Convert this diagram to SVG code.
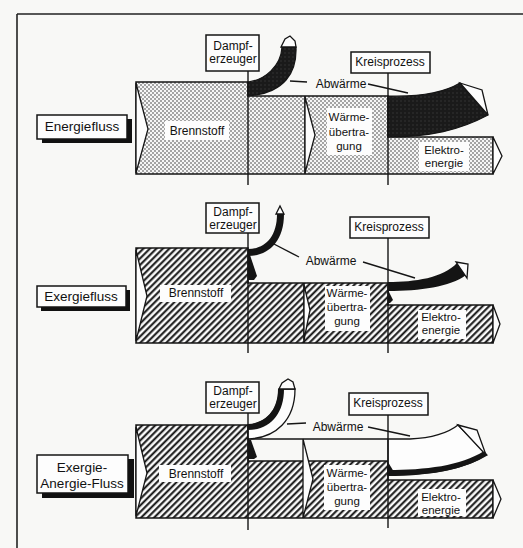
<svg xmlns="http://www.w3.org/2000/svg" width="523" height="548" viewBox="0 0 523 548">
<defs>
<pattern id="dots" patternUnits="userSpaceOnUse" width="4" height="4">
<rect width="4" height="4" fill="#f6f6f6"/>
<circle cx="1" cy="1" r="0.75" fill="#2a2a2a"/>
<circle cx="3" cy="3" r="0.75" fill="#2a2a2a"/>
</pattern>
<pattern id="darkdots" patternUnits="userSpaceOnUse" width="4" height="4">
<rect width="4" height="4" fill="#1a1a1a"/>
<circle cx="1" cy="1" r="0.7" fill="#3a3a3a"/>
</pattern>
<pattern id="hatch" patternUnits="userSpaceOnUse" width="4.6" height="4.6" patternTransform="rotate(45)">
<rect width="4.6" height="4.6" fill="#fbfbfb"/>
<line x1="1.2" y1="0" x2="1.2" y2="4.6" stroke="#111" stroke-width="2"/>
</pattern>
<style>
.ln{stroke:#151515;stroke-width:1.4;fill:none}
.blk{stroke:#151515;stroke-width:1.5}
.wht{fill:#fdfdfd;stroke:#151515;stroke-width:1.3}
.box{fill:#fdfdfd;stroke:#151515;stroke-width:1.5}
.shd{fill:#111}
.tb{fill:#fdfdfd;stroke:none}
.solid{fill:#141414;stroke:none}
text{font-family:"Liberation Sans",Arial,Helvetica,sans-serif;fill:#111;text-anchor:middle}
.s12{font-size:12px}
.s11{font-size:11.5px}
.lbl{font-size:13.5px}
</style>
</defs>
<rect x="0" y="0" width="523" height="548" fill="#f8f8f6"/>
<g id="frame">
<line x1="17" y1="14" x2="17" y2="548" stroke="#222" stroke-width="1.6"/>
<line x1="17" y1="14" x2="523" y2="14" stroke="#222" stroke-width="1.6"/>
</g>

<!-- ============ PANEL 1: Energiefluss ============ -->
<g id="energie-label">
<rect class="shd" x="42" y="119" width="90" height="24"/>
<rect class="box" x="37" y="115" width="90" height="24"/>
<text class="lbl" x="82" y="131">Energiefluss</text>
</g>
<g id="energie-stream">
<polygon class="blk" fill="url(#dots)" points="136,82 248,82 248,96 388,96 388,137 493,137 493,174 136,174"/>
<line class="ln" x1="305" y1="96" x2="305" y2="174"/>
<polygon class="wht" points="136,83 148,129 136,173"/>
<polygon class="wht" points="305,97 315,135 305,173"/>
<polygon class="wht" points="493,137 502,156 493,174"/>
<rect class="tb" x="165" y="121" width="64" height="19"/>
<text class="s12" x="197" y="135">Brennstoff</text>
<rect class="tb" x="327" y="108" width="45" height="47"/>
<text class="s11" x="349" y="121">Wärme-</text>
<text class="s11" x="349" y="136">übertra-</text>
<text class="s11" x="349" y="150">gung</text>
<rect class="tb" x="419" y="142" width="50" height="29"/>
<text class="s11" x="444" y="154">Elektro-</text>
<text class="s11" x="444" y="167">energie</text>
</g>
<g id="energie-abwaerme-dampf">
<path fill="url(#darkdots)" stroke="#151515" stroke-width="1.2" d="M248,82 C265,80 281,66 282,47 L296,47 C297,72 285,93 248,96 Z"/>
<polygon class="wht" points="281,47 285,39 290,36 295,41 296,47"/>
</g>
<g id="energie-abwaerme-kreis">
<path fill="url(#darkdots)" stroke="#151515" stroke-width="1.2" d="M388,96 C420,97 445,92 460,83 L488,115 C460,130 430,137 388,137 Z"/>
<polygon class="wht" points="460,83 482,90 488,115"/>
</g>
<g id="energie-dampferzeuger">
<line class="ln" x1="248" y1="71" x2="248" y2="185"/>
<rect class="box" x="206" y="35" width="53" height="36"/>
<text class="s12" x="233" y="50">Dampf-</text>
<text class="s12" x="233" y="63">erzeuger</text>
</g>
<g id="energie-kreisprozess">
<line class="ln" x1="388" y1="73" x2="388" y2="185"/>
<rect class="box" x="351" y="52" width="79" height="21"/>
<text class="s12" x="390" y="66">Kreisprozess</text>
</g>

<!-- ============ PANEL 2: Exergiefluss ============ -->
<g id="exergie-label">
<rect class="shd" x="41" y="290" width="89" height="21"/>
<rect class="box" x="37" y="286" width="89" height="21"/>
<text class="lbl" x="81" y="301">Exergiefluss</text>
</g>
<g id="exergie-stream">
<polygon class="blk" fill="url(#hatch)" points="136,248 248,248 248,283 388,283 388,305 493,305 493,343 136,343"/>
<line class="ln" x1="304" y1="283" x2="304" y2="343"/>
<polygon class="wht" points="136,250 147,296 136,341"/>
<polygon class="wht" points="304,285 310,310 304,340"/>
<polygon class="wht" points="493,305 500,324 493,343"/>
<rect class="tb" x="160" y="285" width="71" height="17"/>
<text class="s12" x="196" y="297">Brennstoff</text>
<rect class="tb" x="325" y="286" width="45" height="45"/>
<text class="s11" x="347" y="297">Wärme-</text>
<text class="s11" x="347" y="311">übertra-</text>
<text class="s11" x="347" y="325">gung</text>
<rect class="tb" x="418" y="310" width="48" height="29"/>
<text class="s11" x="441" y="321">Elektro-</text>
<text class="s11" x="441" y="334">energie</text>
</g>
<g id="exergie-abwaerme-dampf">
<path class="solid" d="M248,249 C264,249 277,238 277,214 L284,214 C284,242 268,256 248,256 Z"/>
<polygon class="wht" points="276,214 284,214 280,206"/>
<polygon class="solid" points="248,255 250,255 257,276 254,280 248,280"/>
</g>
<g id="exergie-abwaerme-kreis">
<path class="solid" d="M388,282 C415,282 443,278 457,263 L466,275 C450,287 420,291 388,291 Z"/>
<polygon class="wht" points="456,262 468,264 467,278"/>
<polygon class="solid" points="388,290 393,300 390,303 388,303"/>
</g>
<g id="exergie-dampferzeuger">
<line class="ln" x1="248" y1="233" x2="248" y2="353"/>
<rect class="box" x="206" y="203" width="53" height="30"/>
<text class="s12" x="233" y="216">Dampf-</text>
<text class="s12" x="233" y="229">erzeuger</text>
</g>
<g id="exergie-kreisprozess">
<line class="ln" x1="388" y1="238" x2="388" y2="353"/>
<rect class="box" x="350" y="217" width="79" height="21"/>
<text class="s12" x="389" y="231">Kreisprozess</text>
</g>

<!-- ============ PANEL 3: Exergie-Anergie-Fluss ============ -->
<g id="exan-label">
<rect class="shd" x="42" y="459" width="92" height="39"/>
<rect class="box" x="37" y="455" width="91" height="38"/>
<text class="lbl" x="82" y="472">Exergie-</text>
<text class="lbl" x="82" y="488">Anergie-Fluss</text>
</g>
<g id="exan-stream">
<polygon class="blk" fill="url(#hatch)" points="136,425 248,425 248,461 388,461 388,480 493,480 493,518 136,518"/>
<polygon class="wht" points="136,427 147,473 136,516"/>
<polygon class="wht" points="303,439 313,479 303,518"/>
<polygon class="wht" points="493,480 501,499 493,518"/>
<rect class="tb" x="159" y="465" width="72" height="17"/>
<text class="s12" x="196" y="478">Brennstoff</text>
<rect class="tb" x="324" y="465" width="46" height="45"/>
<text class="s11" x="347" y="477">Wärme-</text>
<text class="s11" x="347" y="491">übertra-</text>
<text class="s11" x="347" y="505">gung</text>
<rect class="tb" x="418" y="489" width="48" height="27"/>
<text class="s11" x="441" y="501">Elektro-</text>
<text class="s11" x="441" y="514">energie</text>
</g>
<g id="exan-abwaerme-kreis">
<path class="wht" d="M388,439 L410,439 C430,438 448,433 458,425 L487,455 C463,470 425,475 388,475 Z"/>
<path class="solid" d="M388,470 C425,470 461,466 484,451 L487,455 C463,471 425,476 388,476 Z"/>
<polygon class="wht" points="458,425 477,430 486,455"/>
<polygon class="solid" points="388,462 394,472 388,474"/>
</g>
<g id="exan-anergie">
<line class="ln" x1="248" y1="439" x2="303" y2="439"/>
<line class="ln" x1="303" y1="439" x2="388" y2="439"/>
</g>
<g id="exan-abwaerme-dampf">
<path class="wht" d="M248,425 C265,424 279,412 279,389 L295,389 C295,420 276,438 248,439 Z"/>
<path class="solid" d="M248,424 C265,423 278,411 278,389 L284,389 C284,414 270,430 248,430 Z"/>
<polygon class="wht" points="279,389 282,383 288,379 293,382 295,389"/>
<polygon class="solid" points="248,440 251,440 257,457 254,459 248,459"/>
</g>
<g id="exan-dampferzeuger">
<line class="ln" x1="248" y1="413" x2="248" y2="530"/>
<rect class="box" x="206" y="382" width="53" height="31"/>
<text class="s12" x="233" y="395">Dampf-</text>
<text class="s12" x="233" y="408">erzeuger</text>
</g>
<g id="exan-kreisprozess">
<line class="ln" x1="388" y1="415" x2="388" y2="528"/>
<rect class="box" x="349" y="393" width="79" height="22"/>
<text class="s12" x="388" y="407">Kreisprozess</text>
</g>

<!-- ============ Abwärme labels and leader lines ============ -->
<g id="connectors">
<line class="ln" stroke-width="1.1" x1="290" y1="81" x2="307" y2="82"/>
<line class="ln" stroke-width="1.1" x1="368" y1="84" x2="408" y2="93"/>
<line class="ln" stroke-width="1.1" x1="272" y1="243" x2="299" y2="257"/>
<line class="ln" stroke-width="1.1" x1="363" y1="262" x2="415" y2="278"/>
<line class="ln" stroke-width="1.1" x1="287" y1="424" x2="306" y2="423"/>
<line class="ln" stroke-width="1.1" x1="368" y1="427" x2="410" y2="436"/>
</g>
<g id="abwaerme-labels">
<text class="s12" x="341" y="88">Abwärme</text>
<text class="s12" x="331" y="265">Abwärme</text>
<text class="s12" x="338" y="431">Abwärme</text>
</g>
</svg>
